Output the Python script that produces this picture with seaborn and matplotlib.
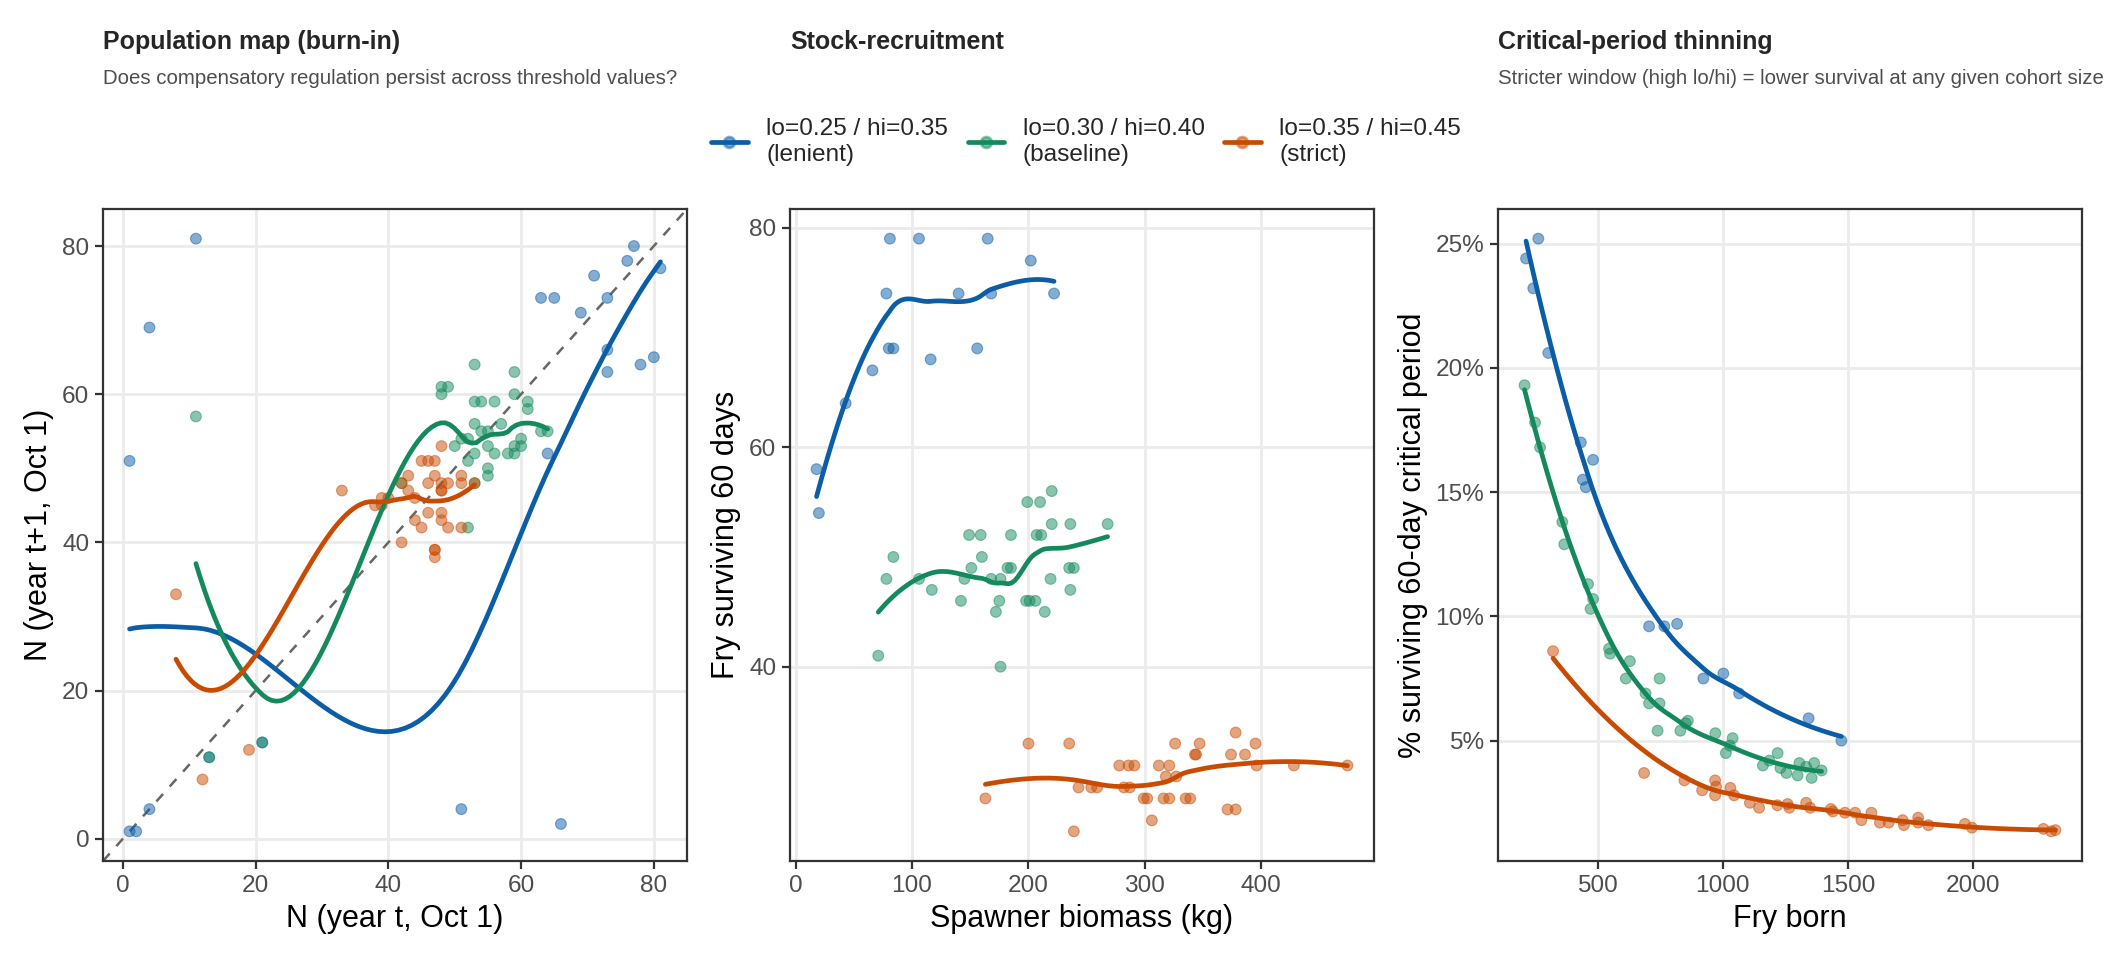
import numpy as np
import pandas as pd
import matplotlib
matplotlib.use("Agg")
import matplotlib.pyplot as plt
from matplotlib.lines import Line2D
from matplotlib.ticker import PercentFormatter
import seaborn as sns

# ---- data ----
regimes = ["lo=0.25 / hi=0.35\n(lenient)",
           "lo=0.30 / hi=0.40\n(baseline)",
           "lo=0.35 / hi=0.45\n(strict)"]
colors = ["#0B5DA6", "#148A5C", "#C94B02"]

# panel 1: population map N(t) -> N(t+1)
map_lenient_x = [1, 4, 11, 1, 2, 4, 13, 21, 51, 66, 64, 63, 65, 73, 69, 71, 76, 77, 81, 73, 73, 78, 80]
map_lenient_y = [51, 69, 81, 1, 1, 4, 11, 13, 4, 2, 52, 73, 73, 73, 71, 76, 78, 80, 77, 66, 63, 64, 65]
map_baseline_x = [11, 13, 21, 42, 48, 49, 48, 53, 59, 53, 54, 56, 59, 61, 61, 53, 57, 54, 55, 63, 64,
                  51, 52, 50, 53, 55, 56, 58, 59, 59, 60, 60, 52, 55, 55, 53, 52]
map_baseline_y = [57, 11, 13, 48, 61, 61, 60, 64, 63, 59, 59, 59, 60, 59, 58, 56, 56, 55, 55, 55, 55,
                  54, 54, 53, 52, 53, 52, 52, 52, 53, 54, 53, 51, 50, 49, 48, 42]
map_strict_x = [8, 12, 19, 33, 48, 45, 46, 47, 43, 47, 51, 51, 42, 46, 48, 49, 43, 48, 48, 39, 40, 44,
                38, 39, 46, 48, 44, 48, 45, 49, 51, 42, 47, 47, 47, 53]
map_strict_y = [33, 8, 12, 47, 53, 51, 51, 51, 49, 49, 49, 48, 48, 48, 48, 48, 47, 47, 47, 46, 46, 46,
                45, 45, 44, 44, 43, 43, 42, 42, 42, 40, 39, 39, 38, 48]

# panel 2: stock-recruitment
sr_lenient_x = [18, 20, 43, 66, 78, 80, 81, 84, 106, 116, 140, 156, 165, 168, 202, 222]
sr_lenient_y = [58, 54, 64, 67, 74, 69, 79, 69, 79, 68, 74, 69, 79, 74, 77, 74]
sr_baseline_x = [220, 199, 210, 220, 236, 268, 149, 159, 185, 207, 211, 84, 160, 151, 182, 185, 235, 239,
                 78, 106, 145, 168, 176, 219, 117, 236, 142, 175, 198, 201, 206, 172, 214, 71, 176]
sr_baseline_y = [56, 55, 55, 53, 53, 53, 52, 52, 52, 52, 52, 50, 50, 49, 49, 49, 49, 49,
                 48, 48, 48, 48, 48, 48, 47, 47, 46, 46, 46, 46, 46, 45, 45, 41, 40]
sr_strict_x = [378, 200, 235, 326, 347, 395, 343, 344, 374, 386, 278, 286, 291, 312, 321, 396, 428, 474,
               318, 327, 243, 254, 259, 282, 287, 299, 302, 316, 321, 335, 339, 163, 371, 378, 306, 239]
sr_strict_y = [34, 33, 33, 33, 33, 33, 32, 32, 32, 32, 31, 31, 31, 31, 31, 31, 31, 31,
               30, 30, 29, 29, 29, 29, 29, 28, 28, 28, 28, 28, 28, 28, 27, 27, 26, 25]

# panel 3: critical-period thinning (survival in %)
cp_lenient_x = [213, 242, 262, 302, 432, 440, 452, 481, 705, 766, 817, 922, 1002, 1065, 1343, 1474]
cp_lenient_y = [24.4, 23.2, 25.2, 20.6, 17.0, 15.5, 15.2, 16.3, 9.6, 9.6, 9.7, 7.5, 7.7, 6.9, 5.9, 5.0]
cp_baseline_x = [207, 249, 269, 358, 366, 461, 481, 471, 545, 549, 628, 612, 747, 691, 705, 747, 739, 830,
                 851, 860, 970, 1028, 1039, 1012, 1160, 1186, 1219, 1230, 1254, 1306, 1299, 1333, 1365,
                 1355, 1395]
cp_baseline_y = [19.3, 17.8, 16.8, 13.8, 12.9, 11.3, 10.7, 10.3, 8.7, 8.5, 8.2, 7.5, 7.5, 6.9, 6.5, 6.5, 5.4,
                 5.4, 5.7, 5.8, 5.3, 4.8, 5.1, 4.5, 4.0, 4.2, 4.5, 3.9, 3.7, 4.1, 3.6, 3.95, 4.1, 3.5, 3.8]
cp_strict_x = [321, 685, 846, 917, 969, 973, 969, 1030, 1045, 1108, 1145, 1218, 1259, 1266, 1333, 1349,
               1432, 1440, 1488, 1529, 1554, 1594, 1628, 1663, 1719, 1724, 1781, 1781, 1822, 1968, 1996,
               2282, 2313, 2330]
cp_strict_y = [8.6, 3.7, 3.4, 3.0, 3.4, 3.15, 2.8, 3.1, 2.8, 2.5, 2.3, 2.4, 2.45, 2.3, 2.5, 2.3,
               2.25, 2.15, 2.1, 2.1, 1.8, 2.1, 1.7, 1.7, 1.8, 1.6, 1.9, 1.7, 1.6, 1.65, 1.5,
               1.45, 1.35, 1.4]


def local_fit(x, y, x0, q):
    # weighted local quadratic at x0 -> (value, slope)
    d = np.abs(x - x0)
    h = np.sort(d)[q - 1] * 1.0000001
    w = np.clip(1 - (d / h) ** 3, 0, None) ** 3
    X = np.column_stack([np.ones_like(x), x - x0, (x - x0) ** 2])
    sw = np.sqrt(w)
    beta = np.linalg.lstsq(X * sw[:, None], y * sw, rcond=None)[0]
    return beta[0], beta[1]


def kd_vertices(x, span=0.75, cell=0.2):
    # split points of the loess kd-tree (1-d)
    x = np.sort(np.asarray(x, float))
    n = len(x)
    fc = int(np.floor(n * span * cell))
    mu = 0.005 * (x[-1] - x[0])
    lo_b, hi_b = x[0] - mu, x[-1] + mu
    verts = {lo_b, hi_b}
    stack = [(0, n - 1, lo_b, hi_b)]
    while stack:
        l, u, a, b = stack.pop()
        if u - l + 1 <= fc:
            continue
        m = (l + u + 2) // 2 - 1
        off = 0
        while l <= m + off < u:
            if x[m + off] == x[m + off + 1]:
                off = -off
                if off >= 0:
                    off += 1
            else:
                m = m + off
                break
        xi = x[m]
        if xi == a or xi == b:
            continue
        verts.add(xi)
        stack.append((l, m, a, xi))
        stack.append((m + 1, u, xi, b))
    return np.array(sorted(verts))


def smooth(xv, yv, span=0.75, n_out=80):
    # loess fit at the vertices, cubic Hermite interpolation in between
    xv = np.asarray(xv, float)
    yv = np.asarray(yv, float)
    q = int(np.floor(len(xv) * span))
    verts = kd_vertices(xv, span)
    fits = np.array([local_fit(xv, yv, v, q) for v in verts])
    xs = np.linspace(xv.min(), xv.max(), n_out)
    idx = np.clip(np.searchsorted(verts, xs) - 1, 0, len(verts) - 2)
    v0, v1 = verts[idx], verts[idx + 1]
    hh = v1 - v0
    t = (xs - v0) / hh
    f0, s0 = fits[idx, 0], fits[idx, 1]
    f1, s1 = fits[idx + 1, 0], fits[idx + 1, 1]
    ys = (f0 * (2 * t ** 3 - 3 * t ** 2 + 1) + hh * s0 * (t ** 3 - 2 * t ** 2 + t)
          + f1 * (-2 * t ** 3 + 3 * t ** 2) + hh * s1 * (t ** 3 - t ** 2))
    return xs, ys


def make_frames(series):
    pts, curves = [], []
    for lab, (xv, yv) in zip(regimes, series):
        pts.append(pd.DataFrame({"x": xv, "y": yv, "regime": lab}))
        cx, cy = smooth(xv, yv)
        curves.append(pd.DataFrame({"x": cx, "y": cy, "regime": lab}))
    return pd.concat(pts, ignore_index=True), pd.concat(curves, ignore_index=True)


sns.set_theme(style="white")
plt.rcParams["font.family"] = ["Liberation Sans", "DejaVu Sans"]

W, H = 2112, 960
fig = plt.figure(figsize=(W / 200, H / 200), dpi=200)
pal = dict(zip(regimes, colors))


def panel(left, series, xlabel, ylabel, xticks, yticks):
    ax = fig.add_axes([left / W, 1 - 861 / H, 584 / W, 652 / H])
    pts, cur = make_frames(series)
    sns.scatterplot(data=pts, x="x", y="y", hue="regime", hue_order=regimes, palette=pal,
                    s=15, alpha=0.5, edgecolor="face", linewidth=0.4, legend=False, ax=ax, zorder=3)
    sns.lineplot(data=cur, x="x", y="y", hue="regime", hue_order=regimes, palette=pal,
                 estimator=None, sort=False, linewidth=1.7, legend=False, ax=ax, zorder=4)
    allx = pd.concat([pts.x, cur.x])
    ally = pd.concat([pts.y, cur.y])
    px = 0.05 * (allx.max() - allx.min())
    py = 0.05 * (ally.max() - ally.min())
    ax.set_xlim(allx.min() - px, allx.max() + px)
    ax.set_ylim(ally.min() - py, ally.max() + py)
    ax.set_xticks(xticks)
    ax.set_yticks(yticks)
    ax.set_xlabel(xlabel, fontsize=11, color="black", labelpad=2.75)
    ax.set_ylabel(ylabel, fontsize=11, color="black", labelpad=2.75)
    ax.grid(True, color="#EBEBEB", linewidth=1.0)
    ax.set_axisbelow(True)
    for sp in ax.spines.values():
        sp.set_color("#333333")
        sp.set_linewidth(0.8)
    ax.tick_params(axis="both", labelsize=8.8, labelcolor="#4D4D4D", length=2.75,
                   width=0.8, color="#333333", pad=2.2, bottom=True, left=True)
    return ax


ax1 = panel(103, [(map_lenient_x, map_lenient_y), (map_baseline_x, map_baseline_y),
                  (map_strict_x, map_strict_y)],
            "N (year t, Oct 1)", "N (year t+1, Oct 1)", [0, 20, 40, 60, 80], [0, 20, 40, 60, 80])
ax1.axline((0, 0), slope=1, color="#666666", linestyle=(0, (4, 4)), linewidth=0.9, zorder=2)

ax2 = panel(790, [(sr_lenient_x, sr_lenient_y), (sr_baseline_x, sr_baseline_y),
                  (sr_strict_x, sr_strict_y)],
            "Spawner biomass (kg)", "Fry surviving 60 days", [0, 100, 200, 300, 400], [40, 60, 80])

ax3 = panel(1498, [(cp_lenient_x, cp_lenient_y), (cp_baseline_x, cp_baseline_y),
                   (cp_strict_x, cp_strict_y)],
            "Fry born", "% surviving 60-day critical period", [500, 1000, 1500, 2000], [5, 10, 15, 20, 25])
ax3.yaxis.set_major_formatter(PercentFormatter(xmax=100, decimals=0))

# titles and subtitles
fig.text(103 / W, 1 - 49 / H, "Population map (burn-in)", fontsize=9, fontweight="bold", va="baseline")
fig.text(103 / W, 1 - 84 / H, "Does compensatory regulation persist across threshold values?",
         fontsize=7.35, color="#4D4D4D", va="baseline")
fig.text(790 / W, 1 - 49 / H, "Stock-recruitment", fontsize=9, fontweight="bold", va="baseline")
fig.text(1498 / W, 1 - 49 / H, "Critical-period thinning", fontsize=9, fontweight="bold", va="baseline")
fig.text(1498 / W, 1 - 84 / H,
         "Stricter window (high lo/hi) = lower survival at any given cohort size",
         fontsize=7.35, color="#4D4D4D", va="baseline")

handles = [Line2D([], [], color=c, linewidth=1.7, marker="o", markersize=3.9,
                  markerfacecolor=matplotlib.colors.to_rgba(c, 0.5),
                  markeredgecolor=matplotlib.colors.to_rgba(c, 0.5)) for c in colors]
leg = fig.legend(handles, regimes, loc="center", bbox_to_anchor=(1086 / W, 1 - 142 / H), ncol=3,
                 frameon=False, fontsize=8.8, handlelength=1.5, handletextpad=0.75,
                 columnspacing=0.8)
for t in leg.get_texts():
    t.set_linespacing(1.25)

fig.savefig("out.png", dpi=200)
